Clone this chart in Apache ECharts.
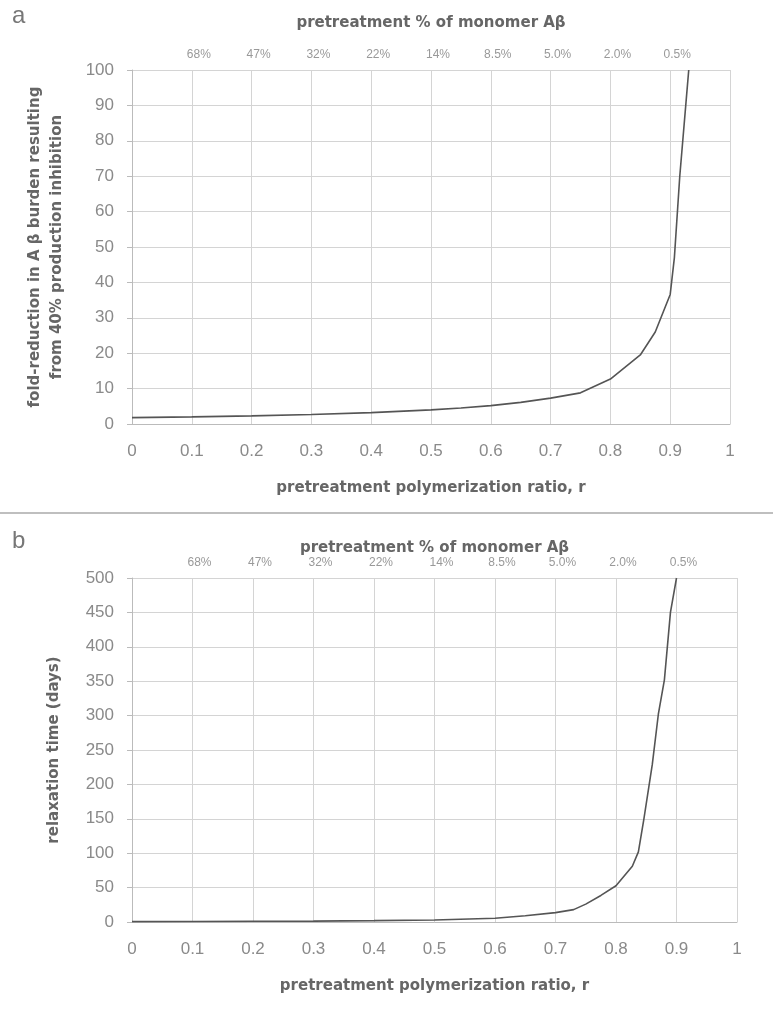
<!DOCTYPE html>
<html>
<head>
<meta charset="utf-8">
<script src="https://cdn.jsdelivr.net/npm/echarts@6/dist/echarts.min.js"></script>
<style>
  html, body { margin: 0; padding: 0; background: #fff; }
  #chart { width: 773px; height: 1016px; }
</style>
</head>
<body>
<div id="chart"></div>
<script>
// panel a: fold-reduction in A beta burden vs pretreatment polymerization ratio
const ratioA = [0, 0.1, 0.2, 0.3, 0.4, 0.5, 0.55, 0.6, 0.65, 0.7, 0.75, 0.8, 0.85, 0.875, 0.9, 0.907, 0.916, 0.926, 0.931];
const foldA = [1.8, 2.0, 2.3, 2.7, 3.2, 4.0, 4.5, 5.2, 6.1, 7.3, 8.8, 12.7, 19.5, 26, 36.6, 47, 70, 90, 100];

// panel b: relaxation time (days)
const ratioB = [0, 0.1, 0.2, 0.3, 0.4, 0.5, 0.6, 0.65, 0.7, 0.73, 0.75, 0.775, 0.8, 0.827, 0.837, 0.846, 0.86, 0.87, 0.88, 0.89, 0.9];
const daysB = [0.5, 0.7, 1, 1.3, 2, 3, 5.5, 9, 13.6, 18, 26, 38.6, 52.7, 81, 102, 149, 229, 302, 352, 450, 500];

// top axis: pretreatment % of monomer, at r = 0.1 ... 0.9
const monomerPct = ['68%', '47%', '32%', '22%', '14%', '8.5%', '5.0%', '2.0%', '0.5%'];

const FONT = 'Liberation Sans';
const TITLE_FONT = 'DejaVu Sans';
const gridLine = { show: true, lineStyle: { color: '#d4d4d4', width: 1 } };
const titleStyle = { fontFamily: TITLE_FONT, fontSize: 15, fontWeight: 'bold', color: '#666' };

function pairs(xs, ys) {
  return xs.map((x, i) => [x, ys[i]]);
}

function bottomAxis(gridIndex) {
  return {
    type: 'value', gridIndex: gridIndex, position: 'bottom',
    min: 0, max: 1, interval: 0.1,
    name: 'pretreatment polymerization ratio, r',
    nameLocation: 'middle', nameGap: 57,
    nameTextStyle: titleStyle,
    axisLine: { show: true, lineStyle: { color: '#bbb' } },
    axisTick: { show: false },
    axisLabel: { fontFamily: FONT, fontSize: 17, color: '#8a8a8a', margin: 19 },
    splitLine: gridLine
  };
}

function topAxis(gridIndex, gap) {
  return {
    type: 'value', gridIndex: gridIndex, position: 'top',
    min: 0, max: 1, interval: 0.1,
    name: 'pretreatment % of monomer A\u03b2',
    nameLocation: 'middle', nameGap: gap,
    nameTextStyle: titleStyle,
    axisLine: { show: false },
    axisTick: { show: false },
    splitLine: { show: false },
    axisLabel: {
      fontFamily: FONT, fontSize: 12, color: '#999', margin: 9,
      padding: [0, 0, 0, 14],
      formatter: function (v) {
        const i = Math.round(v * 10) - 1;
        return (i >= 0 && i < monomerPct.length) ? monomerPct[i] : '';
      }
    }
  };
}

const chart = echarts.init(document.getElementById('chart'));
chart.setOption({
  animation: false,
  backgroundColor: '#fff',
  grid: [
    { left: 132, top: 70, width: 598, height: 354 },
    { left: 132, top: 578, width: 605, height: 344 }
  ],
  xAxis: [bottomAxis(0), topAxis(0, 39), bottomAxis(1), topAxis(1, 22)],
  yAxis: [
    {
      type: 'value', gridIndex: 0, min: 0, max: 100, interval: 10,
      name: 'fold-reduction in A \u03b2 burden resulting\nfrom 40% production inhibition',
      nameLocation: 'middle', nameGap: 64,
      nameTextStyle: Object.assign({ lineHeight: 22 }, titleStyle),
      axisLine: { show: true, lineStyle: { color: '#bbb' } },
      axisTick: { show: true, length: 5, lineStyle: { color: '#bbb' } },
      axisLabel: { fontFamily: FONT, fontSize: 17, color: '#8a8a8a', margin: 18 },
      splitLine: gridLine
    },
    {
      type: 'value', gridIndex: 1, min: 0, max: 500, interval: 50,
      name: 'relaxation time (days)',
      nameLocation: 'middle', nameGap: 70,
      nameTextStyle: titleStyle,
      axisLine: { show: true, lineStyle: { color: '#bbb' } },
      axisTick: { show: true, length: 5, lineStyle: { color: '#bbb' } },
      axisLabel: { fontFamily: FONT, fontSize: 17, color: '#8a8a8a', margin: 18 },
      splitLine: gridLine
    }
  ],
  series: [
    {
      type: 'line', xAxisIndex: 0, yAxisIndex: 0,
      data: pairs(ratioA, foldA),
      showSymbol: false,
      lineStyle: { color: '#555', width: 1.6 }
    },
    {
      type: 'line', xAxisIndex: 2, yAxisIndex: 1,
      data: pairs(ratioB, daysB),
      showSymbol: false,
      lineStyle: { color: '#555', width: 1.6 }
    }
  ],
  graphic: [
    { type: 'text', left: 12, top: 4, style: { text: 'a', font: '24px ' + FONT, fill: '#777' } },
    { type: 'text', left: 12, top: 529, style: { text: 'b', font: '24px ' + FONT, fill: '#777' } },
    { type: 'line', shape: { x1: 0, y1: 513, x2: 773, y2: 513 }, style: { stroke: '#aaa', lineWidth: 1.5 } }
  ]
});
</script>
</body>
</html>
